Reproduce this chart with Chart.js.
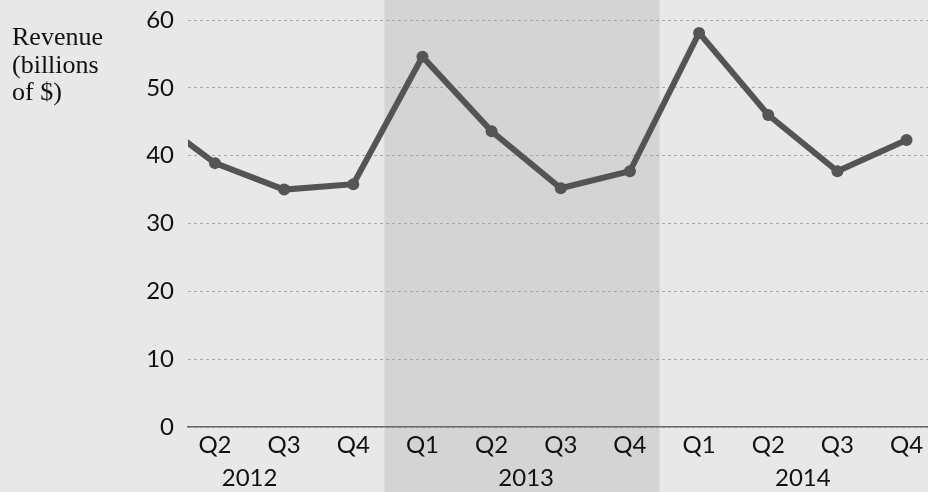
<!DOCTYPE html>
<html><head><meta charset="utf-8">
<script src="https://cdn.jsdelivr.net/npm/chart.js@4/dist/chart.umd.min.js"></script>
<style>
html,body{margin:0;padding:0;background:#e8e8e8;}
#wrap{width:928px;height:492px;position:relative;}
</style>
</head><body>
<div id="wrap"><canvas id="c"></canvas></div>
<script>
// ---- data ----
const quarters = ['Q1','Q2','Q3','Q4','Q1','Q2','Q3','Q4','Q1','Q2','Q3','Q4'];
const quarterYears = ['2012','2012','2012','2012','2013','2013','2013','2013','2014','2014','2014','2014'];
const years = ['2012','2013','2014'];
const shadedYear = '2013';
const revenue = [46.5, 38.9, 35.0, 35.8, 54.6, 43.6, 35.2, 37.7, 58.1, 46.0, 37.7, 42.3];
const yTicks = [0, 10, 20, 30, 40, 50, 60];
const yTitle = ['Revenue', '(billions', 'of $)'];

// ---- derived ----
const points = revenue.map((v, i) => ({x: i, y: v}));
const visibleTickIdx = quarters.map((q, i) => i).filter(i => i >= 1);

const bgPlugin = {
  id: 'bg',
  beforeDraw(chart) {
    const {ctx} = chart;
    const xs = chart.scales.x;
    ctx.save();
    ctx.fillStyle = '#e8e8e8';
    ctx.fillRect(0, 0, chart.width, chart.height);
    const idx = quarterYears.map((y, i) => y === shadedYear ? i : -1).filter(i => i >= 0);
    const x0 = xs.getPixelForValue(idx[0] - 0.55);
    const x1 = xs.getPixelForValue(idx[idx.length - 1] + 0.43);
    ctx.fillStyle = '#d4d4d4';
    ctx.fillRect(x0, 0, x1 - x0, chart.height);
    ctx.restore();
  },
  afterDraw(chart) {
    const {ctx, chartArea} = chart;
    const xs = chart.scales.x;
    ctx.save();
    ctx.fillStyle = '#111';
    ctx.font = '24px Lato';
    ctx.textAlign = 'center';
    ctx.textBaseline = 'middle';
    years.forEach(yr => {
      const i2 = quarters.findIndex((q, i) => q === 'Q2' && quarterYears[i] === yr);
      const i3 = quarters.findIndex((q, i) => q === 'Q3' && quarterYears[i] === yr);
      ctx.fillText(yr, xs.getPixelForValue((i2 + i3) / 2), chartArea.bottom + 51);
    });
    ctx.font = '26px "Liberation Serif"';
    ctx.textAlign = 'left';
    ctx.textBaseline = 'alphabetic';
    yTitle.forEach((t, k) => ctx.fillText(t, 12, 45 + k * 27.5));
    ctx.restore();
  }
};

new Chart(document.getElementById('c'), {
  type: 'line',
  data: {
    datasets: [{
      data: points,
      borderColor: '#545454',
      backgroundColor: '#545454',
      borderWidth: 6,
      pointRadius: 6,
      pointBackgroundColor: '#555',
      pointBorderWidth: 0,
      tension: 0,
      fill: false
    }]
  },
  plugins: [bgPlugin],
  options: {
    responsive: true,
    maintainAspectRatio: false,
    animation: false,
    layout: {autoPadding: false, padding: {top: 20, left: 0, right: 0, bottom: 0}},
    plugins: {legend: {display: false}, tooltip: {enabled: false}},
    scales: {
      x: {
        type: 'linear',
        min: 0.61,
        max: 11.31,
        afterFit(axis) { axis.height = 65; axis.paddingRight = 0; axis.paddingLeft = 0; },
        afterBuildTicks(axis) { axis.ticks = visibleTickIdx.map(v => ({value: v})); },
        ticks: {
          autoSkip: false,
          maxRotation: 0,
          padding: 4,
          color: '#111',
          font: {family: 'Lato', size: 24},
          callback: v => quarters[v]
        },
        grid: {display: false, drawTicks: false},
        border: {display: true, color: '#6a6a6a', width: 1.5}
      },
      y: {
        min: 0,
        max: 60,
        afterFit(axis) { axis.width = 188; axis.paddingTop = 0; axis.paddingBottom = 0; },
        afterBuildTicks(axis) { axis.ticks = yTicks.map(v => ({value: v})); },
        ticks: {
          padding: 14,
          color: '#111',
          font: {family: 'Lato', size: 24}
        },
        grid: {color: '#a8a8a8', lineWidth: 1, drawTicks: false},
        border: {display: false, dash: [3, 3]}
      }
    }
  }
});
</script>
</body></html>
